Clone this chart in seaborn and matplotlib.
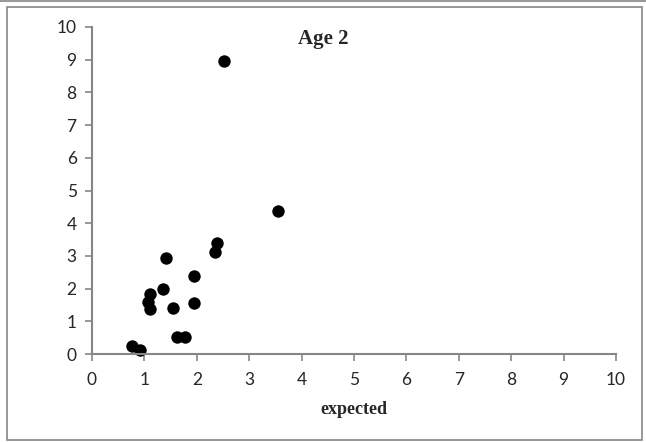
import numpy as np
import pandas as pd
import seaborn as sns
import matplotlib.pyplot as plt
from matplotlib.patches import Rectangle

# values
expected = [2.52, 3.55, 2.39, 2.35, 1.42, 1.95, 1.36, 1.11, 1.07, 1.11, 1.55, 1.95, 1.62, 1.78, 0.76, 0.92]
observed = [8.97, 4.36, 3.39, 3.12, 2.94, 2.40, 2.00, 1.84, 1.60, 1.38, 1.40, 1.56, 0.51, 0.53, 0.25, 0.11]
ticks = list(range(0, 11))

df = pd.DataFrame({"expected": expected, "observed": observed})

sns.set_style("white")
plt.rcParams['font.family'] = ['Lato', 'DejaVu Sans']

fig = plt.figure(figsize=(6.46, 4.42), dpi=100)
ax = fig.add_axes([0.1424, 0.199, 0.8112, 0.740])

sns.scatterplot(data=df, x="expected", y="observed", ax=ax, color="black",
                s=80, edgecolor="black", linewidth=0, clip_on=False)

ax.set_xlim(0, 10)
ax.set_ylim(0, 10)
ax.set_xticks(ticks)
ax.set_yticks(ticks)
ax.tick_params(axis="both", direction="out", length=5, width=1.2, color="#868686",
               labelsize=12.5, left=True, bottom=True)
ax.tick_params(axis="x", pad=8)
ax.tick_params(axis="y", pad=6)

for side in ["top", "right"]:
    ax.spines[side].set_visible(False)
for side in ["left", "bottom"]:
    ax.spines[side].set_color("#868686")
    ax.spines[side].set_linewidth(1.5)

ax.set_ylabel("")
ax.set_xlabel("expected", fontsize=13, fontweight="bold",
              family=["Liberation Serif", "DejaVu Serif"], labelpad=9)
ax.text(0.393, 0.995, "Age 2", transform=ax.transAxes, ha="left", va="top",
        fontsize=15, fontweight="bold", family=["Liberation Serif", "DejaVu Serif"])

# outer chart frame
fig.patches.append(Rectangle((7 / 646, 2 / 442), 635 / 646, 433 / 442,
                             transform=fig.transFigure, fill=False,
                             edgecolor="#868686", linewidth=1.2))
fig.patches.append(Rectangle((0, 441 / 442), 1, 0.0, transform=fig.transFigure,
                             fill=False, edgecolor="#9a9a9a", linewidth=1.5))

fig.savefig("out.png", dpi=100)
